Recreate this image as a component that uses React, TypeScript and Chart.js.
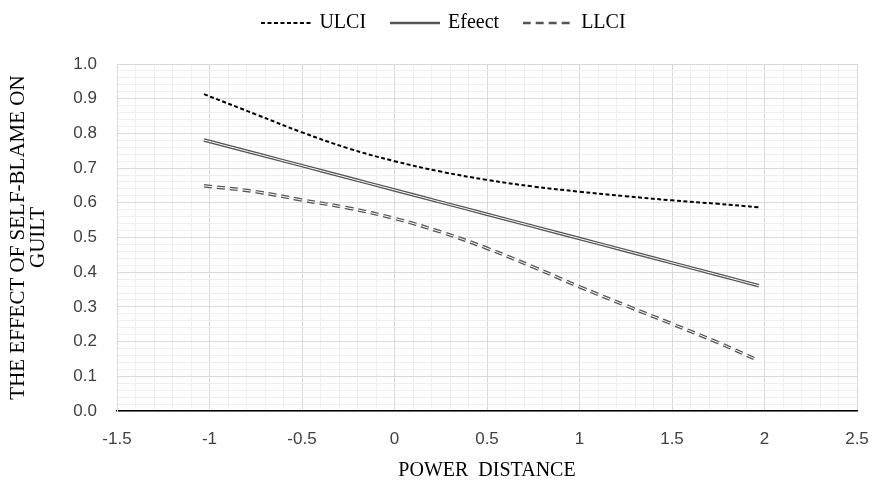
import { useEffect, useRef } from 'react';
import { Chart, registerables } from 'chart.js';

Chart.register(...registerables);

// ---- data ----
const xValues = [-1.03, -0.75, -0.5, -0.25, 0, 0.25, 0.5, 0.75, 1, 1.25, 1.5, 1.75, 1.97];
const ulciValues = [0.913, 0.855, 0.803, 0.757, 0.72, 0.69, 0.666, 0.647, 0.632, 0.619, 0.607, 0.597, 0.587];
const effectValues = [0.781, 0.742, 0.707, 0.672, 0.637, 0.602, 0.567, 0.532, 0.497, 0.462, 0.427, 0.392, 0.361];
const llciValues = [0.649, 0.632, 0.608, 0.585, 0.555, 0.516, 0.469, 0.415, 0.358, 0.304, 0.251, 0.197, 0.145];
const seriesNames = ['ULCI', 'Efeect', 'LLCI'];
const xAxisTitle = 'POWER  DISTANCE';
const yAxisTitle = ['THE EFFECT OF SELF-BLAME ON', 'GUILT'];

const toPoints = (ys: number[]) => xValues.map((x, i) => ({ x, y: ys[i] }));
const isMultiple = (v: number, step: number) => Math.abs(v / step - Math.round(v / step)) < 1e-6;

const majorGrid = '#d9d9d9';
const minorGrid = '#efefef';
const lineGray = '#555555';
const tickFont = { family: 'Liberation Sans', size: 17 };
const serif = 'Liberation Serif';

const ulciStyle = { color: '#000000', width: 2, dash: [4, 2.5] };
const effectStyle = { color: lineGray, width: 3.5, dash: [] as number[] };
const llciStyle = { color: lineGray, width: 3.5, dash: [8, 5] };
const seriesStyles = [ulciStyle, effectStyle, llciStyle];

function makeSwatch(style: { color: string; width: number; dash: number[] }) {
  const c = document.createElement('canvas');
  c.width = 50;
  c.height = 8;
  const g = c.getContext('2d');
  if (!g) return c;
  g.lineCap = 'butt';
  g.setLineDash(style.dash);
  g.strokeStyle = style.color;
  g.lineWidth = Math.min(style.width, 2.5);
  g.beginPath();
  g.moveTo(0, 4);
  g.lineTo(50, 4);
  g.stroke();
  return c;
}

const legendBlock = {
  id: 'legendBlock',
  afterInit(chart: any) {
    const lg = chart.legend;
    if (!lg) return;
    const fit = lg.fit.bind(lg);
    lg.fit = () => {
      fit();
      lg.height = 76;
    };
  },
};

export default function App() {
  const ref = useRef<HTMLCanvasElement | null>(null);

  useEffect(() => {
    if (!ref.current) return;
    const swatches = seriesStyles.map((s) => makeSwatch(s));
    const outer = (i: number, values: number[]) => ({
      label: seriesNames[i],
      data: toPoints(values),
      borderColor: seriesStyles[i].color,
      backgroundColor: seriesStyles[i].color,
      borderWidth: seriesStyles[i].width,
      borderDash: seriesStyles[i].dash,
      pointRadius: 0,
      tension: 0.4,
      order: 1,
    });
    const inner = (i: number, values: number[]) => ({
      label: '',
      data: toPoints(values),
      borderColor: '#ffffff',
      borderWidth: 1,
      borderDash: seriesStyles[i].dash,
      pointRadius: 0,
      tension: 0.4,
      order: 0,
    });
    const chart = new Chart(ref.current, {
      type: 'line',
      data: {
        datasets: [
          outer(0, ulciValues),
          outer(1, effectValues),
          outer(2, llciValues),
          inner(1, effectValues),
          inner(2, llciValues),
        ],
      },
      options: {
        animation: false,
        responsive: false,
        maintainAspectRatio: false,
        layout: { padding: { left: 31, right: 12, top: -12, bottom: 0 } },
        plugins: {
          tooltip: { enabled: false },
          legend: {
            position: 'top',
            labels: {
              usePointStyle: true,
              pointStyleWidth: 47,
              padding: 25,
              color: '#000000',
              font: { family: serif, size: 20 },
              generateLabels: (ch: any) => {
                const items = Chart.defaults.plugins.legend.labels.generateLabels(ch);
                return items
                  .filter((it: any) => it.text !== '')
                  .map((it: any) => ({ ...it, pointStyle: swatches[it.datasetIndex] }));
              },
            },
          },
        },
        scales: {
          x: {
            type: 'linear',
            min: -1.5,
            max: 2.5,
            ticks: {
              stepSize: 0.1,
              autoSkip: false,
              maxRotation: 0,
              padding: 18,
              color: '#404040',
              font: tickFont,
              callback: (v: any) => (isMultiple(Number(v), 0.5) ? String(Math.round(Number(v) * 10) / 10) : ''),
            },
            grid: {
              drawTicks: false,
              color: (ctx: any) => (isMultiple(ctx.tick.value, 0.5) ? majorGrid : minorGrid),
            },
            border: { color: '#000000', width: 1.5 },
            title: {
              display: true,
              text: xAxisTitle,
              color: '#000000',
              font: { family: serif, size: 20, lineHeight: 1.1 },
              padding: { top: 0, bottom: -1 },
            },
            afterFit: (s: any) => {
              s.height = 70;
              s.paddingLeft = 0;
              s.paddingRight = 0;
            },
          },
          y: {
            type: 'linear',
            min: 0,
            max: 1,
            ticks: {
              stepSize: 0.02,
              autoSkip: false,
              padding: 20,
              color: '#404040',
              font: tickFont,
              callback: (v: any) => (isMultiple(Number(v), 0.1) ? Number(v).toFixed(1) : ''),
            },
            grid: {
              drawTicks: false,
              color: (ctx: any) => (isMultiple(ctx.tick.value, 0.1) ? majorGrid : minorGrid),
            },
            border: { color: majorGrid },
            title: {
              display: true,
              text: yAxisTitle,
              color: '#000000',
              font: { family: serif, size: 21, lineHeight: 0.95 },
              padding: { top: -22.5, bottom: 0 },
            },
            afterFit: (s: any) => {
              s.width = 86;
            },
          },
        },
      } as any,
      plugins: [legendBlock],
    });
    return () => chart.destroy();
  }, []);

  return (
    <div style={{ position: 'fixed', left: 0, top: 0, width: 869, height: 481, background: '#ffffff' }}>
      <canvas ref={ref} width={869} height={481} style={{ display: 'block' }} />
    </div>
  );
}
